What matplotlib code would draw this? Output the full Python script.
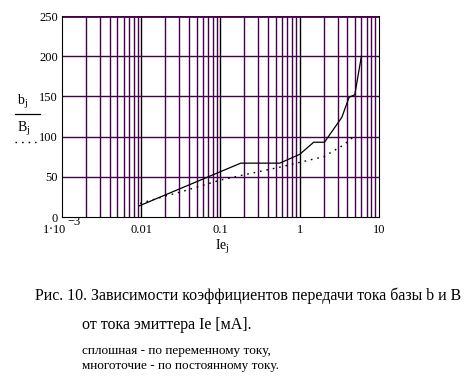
import matplotlib.pyplot as plt
from matplotlib.lines import Line2D

# Data
ie_ac = [0.0095, 0.18, 0.56, 1.0, 1.5, 2.05, 3.4, 4.2, 4.95, 6.0]
b_ac = [14, 67, 67, 78, 93, 93, 124, 149, 152, 200]

ie_dc = [0.0097, 0.02, 0.031, 0.1, 0.21, 0.56, 1.0, 2.0, 3.5, 5.1]
b_dc = [17, 26, 31, 46, 53, 62, 68, 75, 89, 102]

xticks = [1e-3, 0.01, 0.1, 1, 10]
xtick_labels = ['', '0.01', '0.1', '1', '10']
yticks = [0, 50, 100, 150, 200, 250]

plt.rcParams['font.family'] = ['Liberation Serif', 'DejaVu Serif']
purple = '#46004c'

fig = plt.figure(figsize=(4.77, 3.81), dpi=100)
ax = fig.add_axes([0.130, 0.4304, 0.6645, 0.5276])

ax.set_xscale('log')
ax.set_xlim(1e-3, 10)
ax.set_ylim(0, 250)

# grid: minor decades purple, decade lines black
for dec in [1e-3, 1e-2, 1e-1, 1]:
    for k in range(2, 10):
        ax.axvline(dec * k, color=purple, lw=1, zorder=1)
for d in [0.01, 0.1, 1]:
    ax.axvline(d, color='black', lw=1, zorder=1)
for y in yticks[1:]:
    ax.axhline(y, color=purple, lw=1, zorder=1)
ax.axhline(250, color=purple, lw=2, zorder=1)

ax.plot(ie_ac, b_ac, color='black', lw=0.9, zorder=3)
ax.plot(ie_dc, b_dc, color='black', lw=1.0, linestyle=(0, (1.2, 3.5)), zorder=3)

for s in ['left', 'bottom', 'right']:
    ax.spines[s].set_color('black')
ax.spines['top'].set_visible(False)

ax.set_xticks(xticks)
ax.set_xticklabels(xtick_labels)
ax.set_yticks(yticks)
ax.minorticks_off()
ax.tick_params(axis='x', length=0, labelsize=9, pad=5)
ax.tick_params(axis='y', length=0, labelsize=9, pad=3)

fig.text(66 / 477, 1 - 224 / 381, r'1$\cdot$10', fontsize=9, ha='right', va='top')
fig.text(67 / 477, 1 - 216 / 381, '\u22123', fontsize=9, ha='left', va='top')

fig.text(222 / 477, 1 - 247 / 381, 'Ie$_\\mathregular{j}$', fontsize=10, ha='center', va='center')

# y label: b_j / B_j with line styles
fig.text(17 / 477, 1 - 102 / 381, 'b$_\\mathregular{j}$', fontsize=10, ha='left', va='center')
fig.text(17 / 477, 1 - 129 / 381, 'B$_\\mathregular{j}$', fontsize=10, ha='left', va='center')
fig.add_artist(Line2D([15 / 477, 40 / 477], [1 - 114 / 381] * 2, color='black', lw=0.9))
fig.add_artist(Line2D([15 / 477, 36 / 477], [1 - 142 / 381] * 2, color='black', lw=1.0,
                      linestyle=(0, (1.2, 3.5))))

fig.text(35 / 477, 1 - 296 / 381,
         'Рис. 10. Зависимости коэффициентов передачи тока базы b и B',
         fontsize=11.4, ha='left', va='center')
fig.text(82 / 477, 1 - 325 / 381, 'от тока эмиттера Ie [мА].', fontsize=11.5, ha='left', va='center')
fig.text(82 / 477, 1 - 351 / 381, 'сплошная - по переменному току,', fontsize=9.5, ha='left', va='center')
fig.text(82 / 477, 1 - 366 / 381, 'многоточие - по постоянному току.', fontsize=9.5, ha='left', va='center')

fig.savefig('out.png', dpi=100)
